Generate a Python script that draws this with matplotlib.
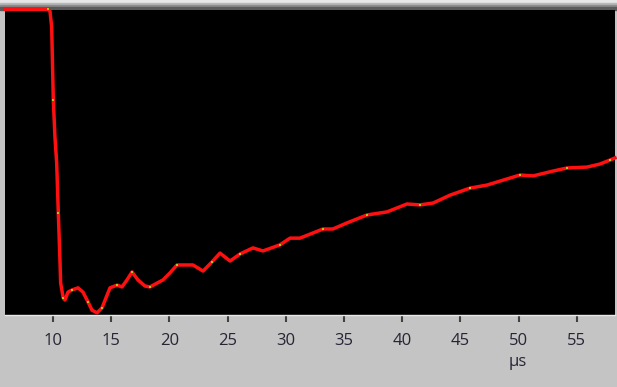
import matplotlib.pyplot as plt
from matplotlib.patches import Rectangle

# time (µs) and signal level (% of full scale)
t_us = [5.88, 9.57, 9.74, 9.89, 10.03, 10.17, 10.32, 10.46, 10.60, 10.66, 10.88,
        11.03, 11.29, 11.63, 12.15, 12.58, 13.01, 13.35, 13.78, 14.21, 14.55,
        14.90, 15.50, 15.93, 16.36, 16.79, 17.30, 17.90, 18.33, 19.45, 20.05,
        20.65, 22.03, 22.89, 23.66, 24.35, 25.21, 26.07, 27.18, 28.04, 29.50,
        30.36, 31.22, 33.20, 34.05, 35.26, 36.98, 38.69, 40.41, 41.53, 42.65,
        44.11, 45.82, 47.29, 48.40, 50.12, 51.24, 52.96, 54.16, 55.88, 56.99,
        57.85, 58.28]
level = [100.2, 100.2, 99.7, 94.4, 70.5, 58.4, 49.8, 33.4, 18.0, 10.5, 5.6,
         4.9, 7.5, 8.2, 8.9, 7.5, 4.3, 1.6, 0.7, 2.3, 5.6,
         8.9, 9.8, 9.2, 11.5, 14.1, 11.5, 9.5, 9.2, 11.5, 13.8,
         16.4, 16.4, 14.4, 17.4, 20.3, 17.7, 20.0, 22.0, 21.0, 23.0,
         25.2, 25.2, 28.2, 28.2, 30.2, 32.8, 33.8, 36.4, 36.1, 36.7,
         39.3, 41.6, 42.6, 43.9, 45.9, 45.6, 47.2, 48.2, 48.5, 49.5,
         50.8, 51.5]
xticks = [10, 15, 20, 25, 30, 35, 40, 45, 50, 55]

fig = plt.figure(figsize=(6.17, 3.87), dpi=100, facecolor='#c4c4c4')
W, H = 617, 387
ax = fig.add_axes([5 / W, (H - 315) / H, 610 / W, 305 / H], facecolor='black')
ax.set_zorder(2)

# grey gradient strip along the top
for y0, y1, c in [(0, 3, '#e6e6e6'), (3, 5, '#b8b8b8'), (5, 7, '#8c8c8c'), (7, 10, '#5a5a5a')]:
    fig.patches.append(Rectangle((0, 1 - y1 / H), 1, (y1 - y0) / H,
                                 transform=fig.transFigure, color=c, zorder=0))

ax.plot(t_us, level, color='#ff1010', lw=2.5, clip_on=False, zorder=3,
        solid_joinstyle='round')
ax.plot(t_us[1::3], level[1::3], ls='none', marker='s', ms=1.8, mew=0,
        color='#9ccc20', zorder=4, clip_on=False)

ax.set_xlim(5.88, 58.28)
ax.set_ylim(0, 100)
ax.set_yticks([])
ax.set_xticks(xticks)
ax.set_xticklabels([str(v) for v in xticks], fontsize=12, family='Open Sans',
                   color='#252535')
ax.tick_params(axis='x', direction='out', length=5, width=1.5, color='#404040', pad=8)
for s in ['top', 'left', 'right']:
    ax.spines[s].set_visible(False)
ax.spines['bottom'].set_color('#e8e8e8')
ax.spines['bottom'].set_linewidth(1)

fig.text(518 / W, 1 - 362 / H, 'µs', fontsize=12, family='Open Sans',
         color='#252535', ha='center', va='center')

fig.savefig('out.png', dpi=100, facecolor=fig.get_facecolor())
